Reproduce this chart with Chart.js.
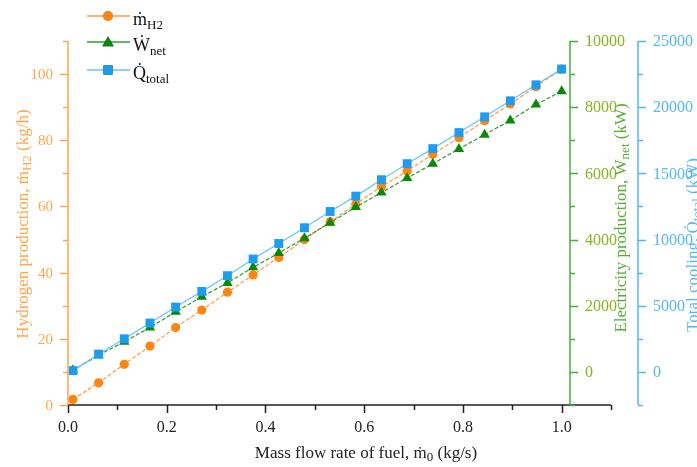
<!DOCTYPE html>
<html>
<head>
<meta charset="utf-8">
<script src="https://cdn.jsdelivr.net/npm/chart.js@4.4.1/dist/chart.umd.min.js"></script>
<style>
  html, body { margin: 0; padding: 0; background: #fff; }
  #wrap { width: 697px; height: 467px; position: relative; }
</style>
</head>
<body>
<div id="wrap"><canvas id="chart"></canvas></div>
<script>
// fuel mass flow (kg/s)
const fuelFlow = [0.01, 0.062, 0.114, 0.166, 0.218, 0.271, 0.323, 0.375, 0.427, 0.479,
  0.531, 0.583, 0.635, 0.687, 0.739, 0.792, 0.844, 0.896, 0.948, 1.0];
// hydrogen production (kg/h)
const h2Rate = [1.7, 6.7, 12.3, 17.8, 23.4, 28.7, 34.1, 39.3, 44.6, 50.0,
  55.4, 60.7, 66.0, 70.7, 75.8, 80.8, 85.9, 91.0, 96.2, 101.5];
// net electricity (kW)
const netPower = [50, 505, 910, 1345, 1815, 2270, 2690, 3160, 3590, 4040,
  4510, 4980, 5420, 5860, 6290, 6740, 7170, 7600, 8080, 8480];
// total cooling (kW)
const coolingLoad = [100, 1340, 2500, 3690, 4900, 6080, 7270, 8530, 9700, 10890,
  12120, 13280, 14520, 15730, 16870, 18080, 19270, 20480, 21690, 22880];

// tick labels
const xTicks = [0, 0.2, 0.4, 0.6, 0.8, 1.0];
const xMinor = [0.1, 0.3, 0.5, 0.7, 0.9, 1.1];
const h2Ticks = [0, 20, 40, 60, 80, 100];
const h2Minor = [10, 30, 50, 70, 90, 110];
const powerTicks = [0, 2000, 4000, 6000, 8000, 10000];
const powerMinor = [-1000, 1000, 3000, 5000, 7000, 9000];
const coolTicks = [0, 5000, 10000, 15000, 20000, 25000];
const coolMinor = [-2500, 2500, 7500, 12500, 17500, 22500];

const SERIF = '"Liberation Serif", "Times New Roman", serif';
const C = {
  h2: '#FF8512', h2Line: '#FF9A40', h2Axis: '#FFA64D',
  w: '#078A07', wLine: '#2E9C2E', wAxis: '#45AE3F', wLabel: '#8DB21F', wTitle: '#55AE36',
  q: '#1E9DF0', qLine: '#66C4FA', qAxis: '#52B7F3', qLabel: '#55B7F2'
};

const pts = (ys) => fuelFlow.map((x, i) => ({ x, y: ys[i] }));

// text with subscripts
function richWidth(ctx, parts, size, sub) {
  let w = 0;
  parts.forEach(p => {
    ctx.font = (p[1] ? sub : size) + 'px ' + SERIF;
    w += ctx.measureText(p[0]).width;
  });
  return w;
}
function drawRich(ctx, parts, x, y, size, sub, center) {
  let cx = center ? x - richWidth(ctx, parts, size, sub) / 2 : x;
  ctx.textAlign = 'left';
  ctx.textBaseline = 'alphabetic';
  parts.forEach(p => {
    ctx.font = (p[1] ? sub : size) + 'px ' + SERIF;
    ctx.fillText(p[0], cx, p[1] ? y + size * 0.2 : y);
    cx += ctx.measureText(p[0]).width;
  });
}
function rotatedTitle(ctx, parts, cx, cy, color) {
  ctx.save();
  ctx.translate(cx, cy);
  ctx.rotate(-Math.PI / 2);
  ctx.fillStyle = color;
  drawRich(ctx, parts, 0, 6, 17, 13, true);
  ctx.restore();
}

// vertical axis with ticks, side -1 = ticks to the left
function drawYAxis(ctx, scale, xp, side, majors, minors, lineColor, labelColor, fontSize, area) {
  ctx.strokeStyle = lineColor;
  ctx.lineWidth = 1.5;
  ctx.beginPath();
  ctx.moveTo(xp, area.top);
  ctx.lineTo(xp, area.bottom);
  majors.forEach(v => {
    const y = Math.round(scale.getPixelForValue(v)) + 0.5;
    ctx.moveTo(xp, y); ctx.lineTo(xp + side * 8, y);
  });
  minors.forEach(v => {
    const y = Math.round(scale.getPixelForValue(v)) + 0.5;
    ctx.moveTo(xp, y); ctx.lineTo(xp + side * 5, y);
  });
  ctx.stroke();
  ctx.fillStyle = labelColor;
  ctx.font = fontSize + 'px ' + SERIF;
  ctx.textAlign = side < 0 ? 'right' : 'left';
  ctx.textBaseline = 'middle';
  majors.forEach(v => {
    ctx.fillText(String(v), xp + side * 15, scale.getPixelForValue(v) + 1);
  });
}

const axesPlugin = {
  id: 'axesPlugin',
  afterDraw(chart) {
    const ctx = chart.ctx, a = chart.chartArea, s = chart.scales;
    ctx.save();
    // x axis
    ctx.strokeStyle = '#222';
    ctx.lineWidth = 1.5;
    ctx.beginPath();
    ctx.moveTo(a.left, a.bottom); ctx.lineTo(a.right, a.bottom);
    xTicks.forEach(v => {
      const x = Math.round(s.x.getPixelForValue(v)) + 0.5;
      ctx.moveTo(x, a.bottom); ctx.lineTo(x, a.bottom + 8);
    });
    xMinor.forEach(v => {
      const x = Math.round(s.x.getPixelForValue(v)) + 0.5;
      ctx.moveTo(x, a.bottom); ctx.lineTo(x, a.bottom + 5);
    });
    ctx.stroke();
    ctx.fillStyle = '#222';
    ctx.font = '16px ' + SERIF;
    ctx.textAlign = 'center';
    ctx.textBaseline = 'middle';
    xTicks.forEach(v => ctx.fillText(v.toFixed(1), s.x.getPixelForValue(v), a.bottom + 23));
    drawRich(ctx, [['Mass flow rate of fuel, \u1E41'], ['0', 1], [' (kg/s)']], 366, a.bottom + 53, 17, 13, true);

    // y axes
    drawYAxis(ctx, s.yH, a.left, -1, h2Ticks, h2Minor, C.h2Axis, C.h2Axis, 15, a);
    drawYAxis(ctx, s.yW, a.right - 41, 1, powerTicks, powerMinor, C.wAxis, C.wLabel, 16, a);
    drawYAxis(ctx, s.yQ, a.right + 27, 1, coolTicks, coolMinor, C.qAxis, C.qLabel, 16, a);

    rotatedTitle(ctx, [['Hydrogen production, \u1E41'], ['H2', 1], [' (kg/h)']], 22, 224, C.h2Axis);
    rotatedTitle(ctx, [['Electricity production, \u1E86'], ['net', 1], [' (kW)']], 620, 218, C.wTitle);
    rotatedTitle(ctx, [['Total cooling, Q\u0307'], ['total', 1], [' (kW)']], 692, 245, C.qLabel);

    // legend
    const items = [
      { y: 16, line: C.h2Line, fill: C.h2, style: 'circle', parts: [['\u1E41'], ['H2', 1]] },
      { y: 42, line: C.wLine, fill: C.w, style: 'triangle', parts: [['\u1E86'], ['net', 1]] },
      { y: 70, line: C.qLine, fill: C.q, style: 'rect', parts: [['Q\u0307'], ['total', 1]] }
    ];
    items.forEach(it => {
      ctx.strokeStyle = it.line;
      ctx.lineWidth = 1.5;
      ctx.beginPath();
      ctx.moveTo(87, it.y); ctx.lineTo(130, it.y);
      ctx.stroke();
      const r = it.style === 'circle' ? 5 : 6.5;
      Chart.helpers.drawPoint(ctx, { pointStyle: it.style, radius: r, borderWidth: 0 }, 108, it.y + (it.style === 'triangle' ? 1 : 0));
      ctx.fillStyle = it.fill;
      ctx.fill();
      ctx.fillStyle = '#111';
      drawRich(ctx, it.parts, 133, it.y + 9, 18, 13, false);
    });
    ctx.restore();
  }
};

new Chart(document.getElementById('chart'), {
  type: 'line',
  data: {
    datasets: [
      {
        label: 'H2', data: pts(h2Rate), yAxisID: 'yH', order: 3,
        borderColor: C.h2Line, borderWidth: 1.2, borderDash: [4, 2],
        pointStyle: 'circle', pointRadius: 4.6, pointBackgroundColor: C.h2, pointBorderWidth: 0
      },
      {
        label: 'Wnet', data: pts(netPower), yAxisID: 'yW', order: 2,
        borderColor: C.wLine, borderWidth: 1.2, borderDash: [4, 2],
        pointStyle: 'triangle', pointRadius: 6, pointBackgroundColor: C.w, pointBorderWidth: 0
      },
      {
        label: 'Qtotal', data: pts(coolingLoad), yAxisID: 'yQ', order: 1,
        borderColor: C.qLine, borderWidth: 1.2,
        pointStyle: 'rect', pointRadius: 6.3, pointBackgroundColor: C.q, pointBorderWidth: 0
      }
    ]
  },
  options: {
    responsive: true,
    maintainAspectRatio: false,
    animation: false,
    layout: { padding: { left: 68, right: 86, top: 41, bottom: 62 } },
    plugins: { legend: { display: false }, tooltip: { enabled: false } },
    elements: { line: { tension: 0 } },
    scales: {
      x: { type: 'linear', min: 0, max: 1.1, display: false },
      yH: { type: 'linear', min: 0, max: 110, display: false },
      yW: { type: 'linear', min: -1000, max: 10000, display: false },
      yQ: { type: 'linear', min: -2500, max: 25000, display: false }
    }
  },
  plugins: [axesPlugin]
});
</script>
</body>
</html>
